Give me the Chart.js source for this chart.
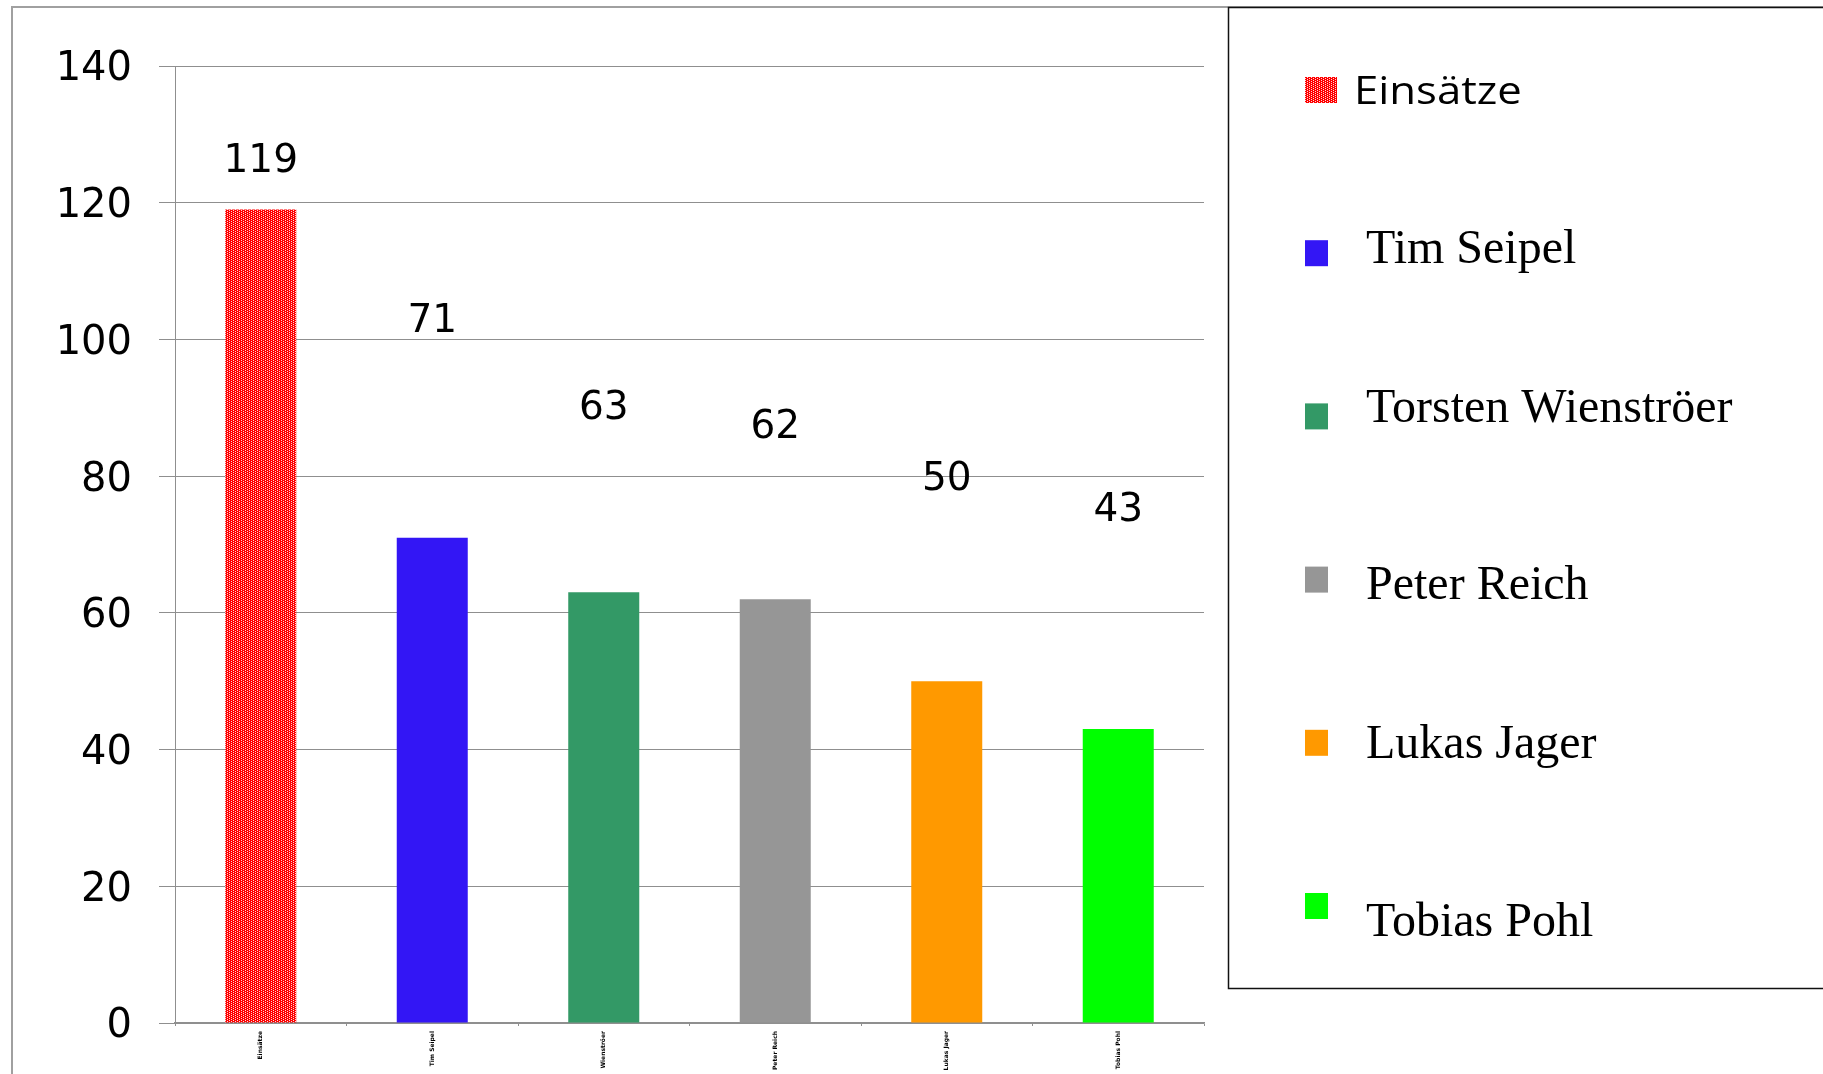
<!DOCTYPE html>
<html>
<head>
<meta charset="utf-8">
<script src="https://cdn.jsdelivr.net/npm/chart.js@4.4.1/dist/chart.umd.min.js"></script>
<style>
  html, body { margin: 0; padding: 0; background: #fff; overflow: hidden; }
</style>
</head>
<body>
<canvas id="chart" width="1823" height="1074"></canvas>
<script>
// data
const names = ["Einsätze", "Tim Seipel", "Torsten Wienströer", "Peter Reich", "Lukas Jager", "Tobias Pohl"];
const einsaetze = [119, 71, 63, 62, 50, 43];
const yTicks = [0, 20, 40, 60, 80, 100, 120, 140];
const barColors = ["#ff0000", "#3316f5", "#339966", "#969696", "#ff9900", "#00ff00"];

// layout bits: the value labels float above the bars (axis units), legend text nudges (px)
const labelAnchors = [126.6, 103.1, 90.4, 87.7, 80.0, 75.5];
const legendShift = [0, -4, -8, 5, 1, 16];

const gridGray = '#8f8f8f';

// red bar has a dotted fill in the original
function redPattern() {
  const c = document.createElement('canvas');
  c.width = 4; c.height = 2;
  const g = c.getContext('2d');
  g.fillStyle = '#ff0000';
  g.fillRect(0, 0, 4, 2);
  g.fillStyle = '#ffd8d8';
  g.fillRect(1, 0, 1, 1);
  g.fillRect(3, 1, 1, 1);
  return g.createPattern(c, 'repeat');
}

const fills = barColors.slice();
fills[0] = redPattern();

const frame = {
  id: 'frame',
  beforeDraw(chart) {
    const c = chart.ctx;
    c.save();
    c.fillStyle = '#fff';
    c.fillRect(0, 0, chart.width, chart.height);
    c.strokeStyle = '#a0a0a0';
    c.lineWidth = 2;
    c.beginPath();
    c.moveTo(12, chart.height);
    c.lineTo(12, 7);
    c.lineTo(chart.width, 7);
    c.stroke();
    c.restore();
  }
};

const valueLabels = {
  id: 'valueLabels',
  afterDatasetsDraw(chart) {
    const meta = chart.getDatasetMeta(0);
    const y = chart.scales.y;
    const c = chart.ctx;
    c.save();
    c.font = '39px "DejaVu Sans"';
    c.fillStyle = '#000';
    c.textAlign = 'center';
    c.textBaseline = 'alphabetic';
    meta.data.forEach((bar, i) => {
      // baseline sits ~0.37em under the visual centre of the digits
      c.fillText(String(einsaetze[i]), bar.x, y.getPixelForValue(labelAnchors[i]) + 14);
    });
    c.restore();
  }
};

// legend box on the right, first entry in sans, the rest in serif like the original
const sideLegend = {
  id: 'sideLegend',
  afterDraw(chart) {
    const c = chart.ctx;
    c.save();
    c.strokeStyle = '#111';
    c.lineWidth = 1.5;
    c.strokeRect(1228.5, 7.5, 700, 981);
    names.forEach((name, i) => {
      const top = 77 + i * 163.2;
      const first = i === 0;
      c.fillStyle = fills[i];
      c.fillRect(1305, top, first ? 32 : 23, 26);
      c.fillStyle = '#000';
      c.textBaseline = 'alphabetic';
      const base = top + 27 + legendShift[i];
      if (first) {
        c.font = '38px "Open Sans"';
        c.save();
        c.translate(1354, base);
        c.scale(1.15, 1);
        c.fillText(name, 0, 0);
        c.restore();
      } else {
        c.font = '48px "Liberation Serif"';
        c.fillText(name, 1366, base);
      }
    });
    c.restore();
  }
};

const ctx = document.getElementById('chart').getContext('2d');
let chart = new Chart(ctx, {
  type: 'bar',
  data: {
    labels: names,
    datasets: [{
      label: 'Einsätze',
      data: einsaetze,
      backgroundColor: fills,
      borderWidth: 0,
      barPercentage: 0.414,
      categoryPercentage: 1
    }]
  },
  options: {
    responsive: false,
    devicePixelRatio: 1,
    animation: false,
    layout: { padding: { left: 0, right: 619, top: 66, bottom: 0 } },
    plugins: {
      legend: { display: false },
      tooltip: { enabled: false }
    },
    scales: {
      x: {
        offset: true,
        afterFit: (scale) => { scale.height = 47; },
        grid: { drawOnChartArea: false, drawTicks: true, tickLength: 3, color: gridGray },
        border: { color: gridGray, width: 1.5 },
        ticks: {
          autoSkip: false,
          minRotation: 90,
          maxRotation: 90,
          padding: 5,
          color: '#000',
          font: { family: 'DejaVu Sans', size: 6, weight: 'bold' }
        }
      },
      y: {
        min: yTicks[0],
        max: yTicks[yTicks.length - 1],
        afterFit: (scale) => { scale.width = 175; },
        grid: { color: gridGray, lineWidth: 1, tickLength: 16 },
        border: { color: gridGray, width: 1 },
        ticks: {
          stepSize: yTicks[1] - yTicks[0],
          padding: 27,
          labelOffset: 4,
          color: '#000',
          font: { family: 'DejaVu Sans', size: 40 }
        }
      }
    }
  },
  plugins: [frame, valueLabels, sideLegend]
});
</script>
</body>
</html>
